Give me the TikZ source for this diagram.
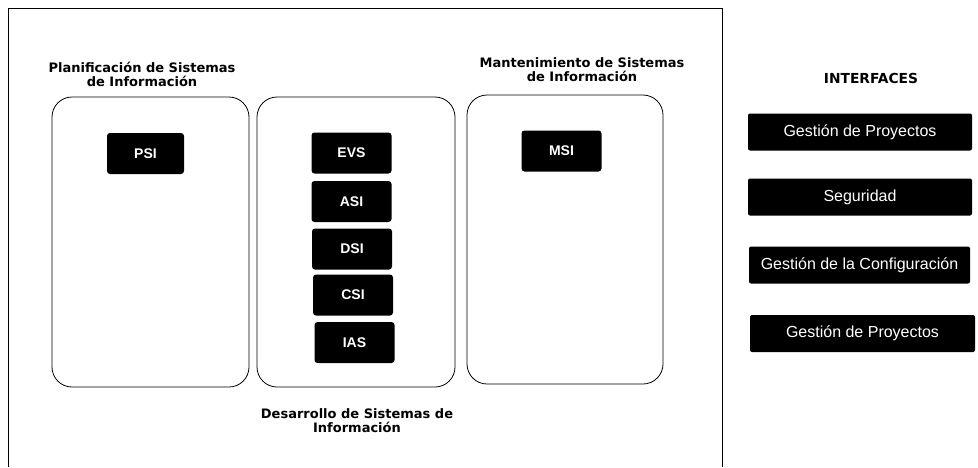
\documentclass[tikz,border=0pt]{standalone}
\usepackage{fontspec}
\setmainfont{Liberation Sans}
\newfontfamily\titlefont{DejaVu Sans}
\usepackage{tikz}

\begin{document}
\begin{tikzpicture} [x = 1pt, y = -1pt,
	fase/.style = {draw, thick, rounded corners = 20pt},
	proceso/.style = {fill = black, rounded corners = 3pt, text = white, font = \bfseries\fontsize{14}{15}\selectfont, minimum width = 80pt, minimum height = 41pt},
	interfaz/.style = {fill = black, rounded corners = 2pt, text = white, font = \fontsize{16}{17}\selectfont, minimum width = 224pt, minimum height = 37pt},
	titulo/.style = {align = center, font = \titlefont\bfseries\fontsize{13}{14}\selectfont}]
	\useasboundingbox (0,0) rectangle (978,467);
	% marco
	\draw [thick] (8,467) -- (8,8) -- (722,8) -- (722,467);
	% fases
	\draw [fase] (52,97) rectangle (249,387);
	\draw [fase] (257,97) rectangle (455,387);
	\draw [fase] (467,95) rectangle (663,384);
	\node [titulo] (tPSI) at (142,74) {Planificación de Sistemas\\de Información};
	\node [titulo] (tDSI) at (357,421) {Desarrollo de Sistemas de\\Información};
	\node [titulo] (tMSI) at (582,70) {Mantenimiento de Sistemas\\de Información};
	% procesos
	\node [proceso, minimum width = 77pt] (PSI) at (145.5,153.5) {PSI};
	\node [proceso] (EVS) at (351.5,153) {EVS};
	\node [proceso] (ASI) at (351.5,201.5) {ASI};
	\node [proceso] (DSI) at (352,249) {DSI};
	\node [proceso] (CSI) at (353,295) {CSI};
	\node [proceso] (IAS) at (354.5,342.5) {IAS};
	\node [proceso] (MSI) at (561.5,151) {MSI};
	% interfaces
	\node [titulo, font = \titlefont\bfseries\fontsize{13.8}{14}\selectfont] (tINT) at (871,78) {INTERFACES};
	\node [interfaz] (GP1) at (860,132) {Gestión de Proyectos};
	\node [interfaz] (SEG) at (860,197) {Seguridad};
	\node [interfaz, minimum width = 221pt] (GC) at (859.5,265) {Gestión de la Configuración};
	\node [interfaz, minimum width = 225pt] (GP2) at (862.5,333.5) {Gestión de Proyectos};
\end{tikzpicture}
\end{document}
